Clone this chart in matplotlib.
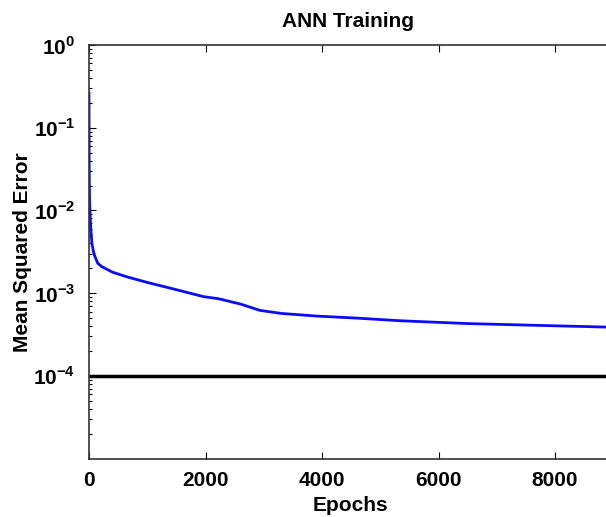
import numpy as np
import matplotlib
matplotlib.use('Agg')
import matplotlib.pyplot as plt
from matplotlib.ticker import LogLocator, FixedLocator, NullFormatter

plt.rcParams['font.family'] = 'Liberation Sans'
plt.rcParams['font.weight'] = 'bold'
plt.rcParams['mathtext.fontset'] = 'custom'
plt.rcParams['mathtext.rm'] = 'Liberation Sans:bold'
plt.rcParams['mathtext.bf'] = 'Liberation Sans:bold'

# training curve
epochs = [0, 2, 5, 10, 17, 30, 50, 75, 100, 150, 218, 400, 647, 1000, 1420,
          1962, 2215, 2600, 2936, 3300, 3900, 4600, 5340, 6485, 7630, 8980]
mse = [0.26, 0.06, 0.023, 0.013, 0.0093, 0.006, 0.004, 0.0032, 0.0028, 0.0023,
       0.0021, 0.0018, 0.00158, 0.00135, 0.00114, 0.00091, 0.00086, 0.00074,
       0.00062, 0.00057, 0.00053, 0.0005, 0.000465, 0.00043, 0.00041, 0.000388]
goal = 1e-4
xticks = [0, 2000, 4000, 6000, 8000]
yticks = [1e-4, 1e-3, 1e-2, 1e-1, 1e0]
ytick_labels = ['$10^{-4}$', '$10^{-3}$', '$10^{-2}$', '$10^{-1}$', '$10^{0}$']

fig = plt.figure(figsize=(6.06, 5.17), dpi=100)
ax = fig.add_axes([89 / 606, 58.3 / 517, 523.1 / 606, 413.7 / 517])

ax.semilogy(epochs, mse, color='#0a0aff', lw=2.0)
ax.axhline(goal, color='black', lw=2.5)

ax.set_xlim(0, 8980)
ax.set_ylim(1e-5, 1e0)
ax.xaxis.set_major_locator(FixedLocator(xticks))
ax.set_yticks(yticks)
ax.set_yticklabels(ytick_labels)
ax.yaxis.set_minor_locator(LogLocator(base=10, subs=np.arange(2, 10)))
ax.yaxis.set_minor_formatter(NullFormatter())

# right side of the box falls outside the picture
ax.tick_params(which='both', direction='in', top=True, right=False,
               labelsize=15, width=0.8)
ax.tick_params(which='major', length=5)
ax.tick_params(which='minor', length=2.5)
ax.tick_params(axis='x', pad=9)
ax.tick_params(axis='y', pad=10)
for s in ax.spines.values():
    s.set_linewidth(1.2)
    s.set_color('#333333')

ax.set_title('ANN Training', fontsize=15, fontweight='bold', pad=13, x=0.495)
ax.set_xlabel('Epochs', fontsize=15, fontweight='bold', labelpad=4)
ax.set_ylabel('Mean Squared Error', fontsize=15, fontweight='bold', labelpad=1)

fig.savefig('out.png', dpi=100)
